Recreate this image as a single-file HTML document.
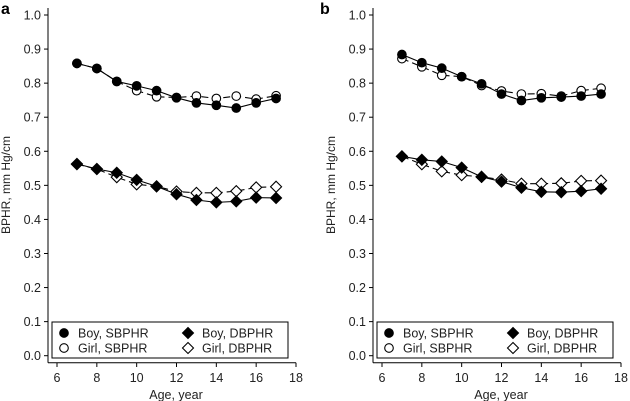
<!DOCTYPE html>
<html><head><meta charset="utf-8"><style>
html,body{margin:0;padding:0;background:#fff;}
svg{display:block;font-family:"Liberation Sans",Arial,sans-serif;}
</style></head><body>
<svg id="chart" width="630" height="401" viewBox="0 0 630 401"></svg>
<script>
const ages=[7,8,9,10,11,12,13,14,15,16,17];
const aBoyS=[.858,.843,.805,.792,.778,.757,.742,.735,.727,.742,.755];
const aGirlS=[.858,.843,.805,.778,.760,.758,.762,.755,.762,.753,.763];
const aBoyD=[.563,.548,.537,.516,.497,.474,.457,.450,.453,.464,.463];
const aGirlD=[.562,.548,.524,.503,.497,.482,.478,.478,.483,.494,.496];
const bBoyS=[.884,.860,.844,.819,.798,.768,.749,.757,.759,.762,.768];
const bGirlS=[.872,.848,.823,.819,.793,.777,.768,.769,.762,.778,.785];
const bBoyD=[.585,.575,.570,.552,.525,.511,.493,.481,.480,.483,.490];
const bGirlD=[.585,.562,.541,.530,.525,.517,.505,.505,.506,.513,.514];
const xTicks=[6,8,10,12,14,16,18];
const yTicks=[0,.1,.2,.3,.4,.5,.6,.7,.8,.9,1.0];
const NS="http://www.w3.org/2000/svg";
const svg=document.getElementById('chart');
function mk(tag,attrs,parent,text){const e=document.createElementNS(NS,tag);for(const k in attrs)e.setAttribute(k,attrs[k]);if(text!==undefined)e.textContent=text;(parent||svg).appendChild(e);return e;}
function panel(off,label,series){
  const g=mk('g',{transform:`translate(${off},0)`});
  
  
  const xs=v=>57+(v-6)*(239/12);
  const ys=v=>355.7-v*340.7;
  const t=mk('text',{x:off?-5:1,y:14,'font-size':16,'font-weight':'bold'},g,label);
  
  const ya=mk('line',{x1:48,y1:8,x2:48,y2:362.7,stroke:'#000','stroke-width':1},g);
  
  yTicks.forEach(v=>{mk('line',{x1:44,x2:48,y1:ys(v),y2:ys(v),stroke:'#000'},g);
    const tl=mk('text',{x:41,y:ys(v)+4.5,'font-size':12.5,'text-anchor':'end',fill:'#222'},g,v.toFixed(1));
    });
  const xa=mk('line',{x1:48,y1:362.7,x2:296,y2:362.7,stroke:'#000'},g);
  
  xTicks.forEach(v=>{mk('line',{x1:xs(v),x2:xs(v),y1:362.7,y2:367,stroke:'#000'},g);
    const tl=mk('text',{x:xs(v),y:382,'font-size':12.5,'text-anchor':'middle',fill:'#222'},g,v);
    });
  const xt=mk('text',{x:176,y:399,'font-size':12.5,'text-anchor':'middle',fill:'#222'},g,'Age, year');
  
  const yt=mk('text',{x:0,y:0,'font-size':12,'text-anchor':'middle',fill:'#222',transform:'translate(10,185) rotate(-90)'},g,'BPHR, mm Hg/cm');
  
  series.forEach(s=>{
    const pts=ages.map((a,i)=>xs(a)+','+ys(s.vals[i])).join(' ');
    const pl=mk('polyline',{points:pts,fill:'none',stroke:'#000','stroke-width':1.1,'stroke-dasharray':s.dash?'7,4':'none'},g);
    
  });
  series.forEach(s=>{
    ages.forEach((a,i)=>{
      const m=marker(g,xs(a),ys(s.vals[i]),s.shape,s.fill);
      
    });
  });
  const lg=mk('g',{},g);
  
  mk('rect',{x:52,y:322,width:236,height:36,fill:'#fff',stroke:'#000'},lg);
  const items=[['Boy, SBPHR','c','#000',64,333],['Girl, SBPHR','c','#fff',64,348],['Boy, DBPHR','d','#000',188,333],['Girl, DBPHR','d','#fff',188,348]];
  items.forEach(it=>{
    const e=mk('g',{},lg);
    
    marker(e,it[3],it[4],it[1],it[2]);
    mk('text',{x:it[3]+14,y:it[4]+4.5,'font-size':12.5,fill:'#222'},e,it[0]);
  });
}
function marker(p,x,y,shape,fill){
  if(shape==='c')return mk('circle',{cx:x,cy:y,r:4.3,fill:fill,stroke:'#000','stroke-width':1.1},p);
  const r=5.5;return mk('polygon',{points:`${x},${y-r} ${x+r},${y} ${x},${y+r} ${x-r},${y}`,fill:fill,stroke:'#000','stroke-width':1.1},p);
}
panel(0,'a',[{name:'girl-sbphr',vals:aGirlS,dash:true,shape:'c',fill:'#fff'},{name:'boy-sbphr',vals:aBoyS,dash:false,shape:'c',fill:'#000'},{name:'girl-dbphr',vals:aGirlD,dash:true,shape:'d',fill:'#fff'},{name:'boy-dbphr',vals:aBoyD,dash:false,shape:'d',fill:'#000'}]);
panel(325,'b',[{name:'girl-sbphr',vals:bGirlS,dash:true,shape:'c',fill:'#fff'},{name:'boy-sbphr',vals:bBoyS,dash:false,shape:'c',fill:'#000'},{name:'girl-dbphr',vals:bGirlD,dash:true,shape:'d',fill:'#fff'},{name:'boy-dbphr',vals:bBoyD,dash:false,shape:'d',fill:'#000'}]);
</script>
</body></html>
